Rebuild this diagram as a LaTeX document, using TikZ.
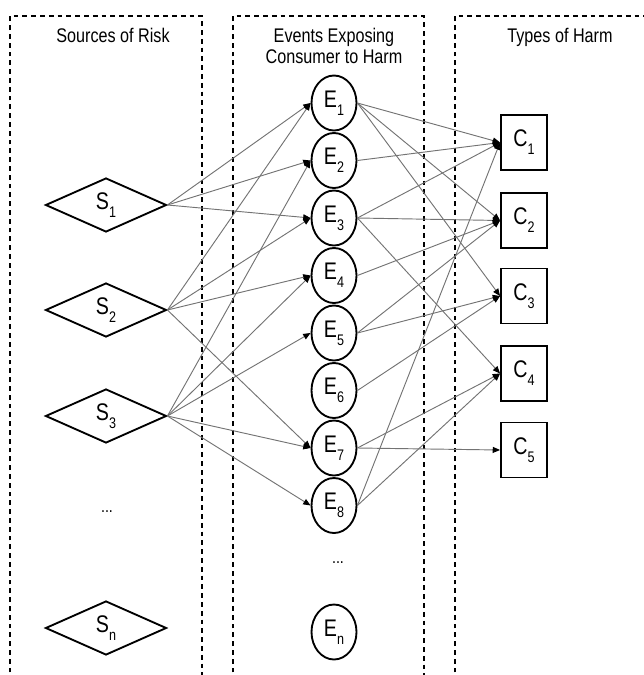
\documentclass[tikz,border=0pt]{standalone}
\usepackage{fontspec}
\setmainfont{Liberation Sans}[FakeStretch=0.82]
\usetikzlibrary{shapes.geometric,arrows.meta}
\newcommand\nlab[2]{#1\raisebox{-0.33em}{\fontsize{11.5pt}{11.5pt}\selectfont #2}}
\begin{document}
\begin{tikzpicture}[x=0.75pt,y=-0.75pt,
  zone/.style={draw=black, line width=1.1pt, dash pattern=on 3.6pt off 3pt},
  hdr/.style={font=\fontsize{14.8pt}{15.5pt}\selectfont, inner sep=0pt, align=center},
  src/.style={diamond, draw, line width=1.4pt, minimum width=90.75pt, minimum height=40.5pt, inner sep=0pt, aspect=2.2, font=\fontsize{18pt}{18pt}\selectfont},
  evt/.style={ellipse, draw, line width=1.4pt, minimum width=33.75pt, minimum height=41.25pt, inner sep=0pt, font=\fontsize{18pt}{18pt}\selectfont},
  harm/.style={rectangle, draw, line width=1.4pt, minimum width=34.5pt, minimum height=41.25pt, inner sep=0pt, font=\fontsize{18pt}{18pt}\selectfont},
  conn/.style={draw=black!55, line width=0.7pt, -{Triangle[length=5.5pt,width=4.5pt,black]}},
  dots/.style={font=\fontsize{13pt}{13pt}\selectfont, inner sep=0pt}]
\useasboundingbox (0,0) rectangle (643,675);
% dashed zones
\draw[zone] (10,690) -- (10,16) -- (202,16) -- (202,690);
\draw[zone] (233,690) -- (233,16) -- (424,16) -- (424,690);
\draw[zone] (455,690) -- (455,16) -- (660,16);
% headers
\node[hdr, anchor=base] (h1) at (113,42) {Sources of Risk};
\node[hdr, anchor=base] (h2) at (334,63.3) {Events Exposing\\Consumer to Harm};
\node[hdr, anchor=base] (h3) at (560,42) {Types of Harm};
% sources
\node[src] (s1) at (106,205) {\nlab{S}{1}};
\node[src] (s2) at (106,310) {\nlab{S}{2}};
\node[src] (s3) at (106,416) {\nlab{S}{3}};
\node[dots] (sd) at (107,512) {...};
\node[src] (sn) at (106,628) {\nlab{S}{n}};
% events
\node[evt] (e1) at (334,103) {\nlab{E}{1}};
\node[evt] (e2) at (334,160.5) {\nlab{E}{2}};
\node[evt] (e3) at (334,218) {\nlab{E}{3}};
\node[evt] (e4) at (334,275.5) {\nlab{E}{4}};
\node[evt] (e5) at (334,333) {\nlab{E}{5}};
\node[evt] (e6) at (334,390.5) {\nlab{E}{6}};
\node[evt] (e7) at (334,448) {\nlab{E}{7}};
\node[evt] (e8) at (334,505.5) {\nlab{E}{8}};
\node[dots] (ed) at (338,563) {...};
\node[evt] (en) at (334,632) {\nlab{E}{n}};
% harms
\node[harm] (c1) at (524,142.5) {\nlab{C}{1}};
\node[harm] (c2) at (524,220.5) {\nlab{C}{2}};
\node[harm] (c3) at (524,296) {\nlab{C}{3}};
\node[harm] (c4) at (524,373.5) {\nlab{C}{4}};
\node[harm] (c5) at (524,450) {\nlab{C}{5}};
% sources -> events
\foreach \a/\b in {s1/e1,s1/e2,s1/e3,s2/e1,s2/e3,s2/e4,s2/e7,s3/e2,s3/e4,s3/e5,s3/e7,s3/e8}
  \draw[conn] (\a.east) -- (\b.west);
% events -> harms
\foreach \a/\b in {e1/c1,e1/c2,e1/c3,e2/c1,e3/c1,e3/c2,e3/c4,e4/c2,e5/c2,e5/c3,e6/c3,e7/c4,e7/c5,e8/c1,e8/c4}
  \draw[conn] (\a.east) -- (\b.west);
\end{tikzpicture}
\end{document}
